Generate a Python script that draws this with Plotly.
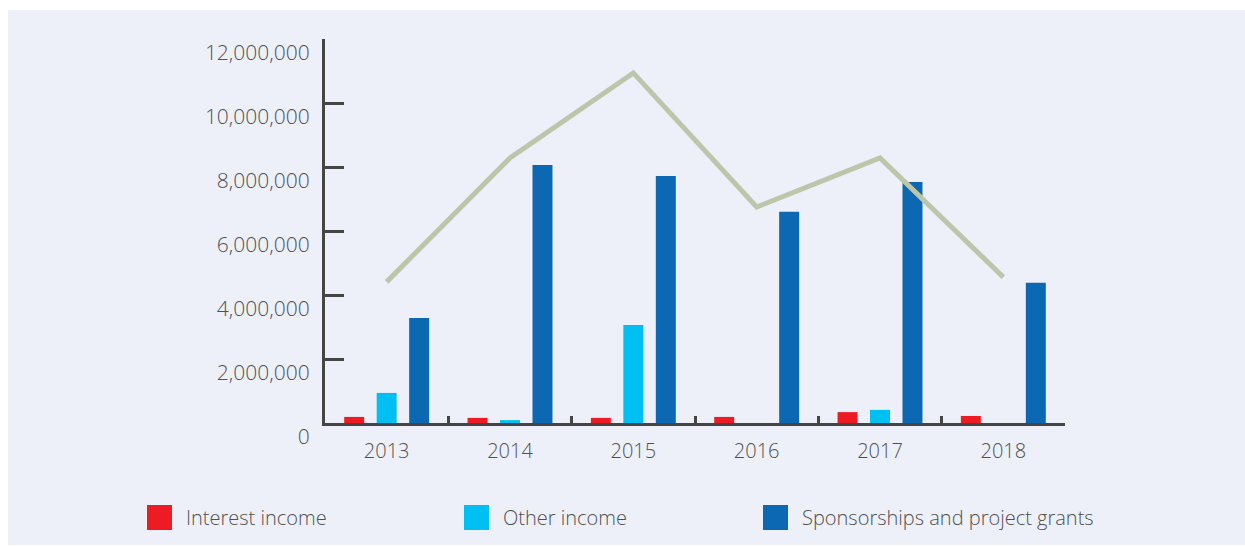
import plotly.graph_objects as go

years = ["2013", "2014", "2015", "2016", "2017", "2018"]
interest_income = [190000, 160000, 160000, 190000, 340000, 220000]
other_income = [940000, 90000, 3060000, 0, 410000, 0]
sponsorships = [3280000, 8060000, 7720000, 6600000, 7530000, 4380000]
total_income = [4410000, 8280000, 10940000, 6750000, 8280000, 4560000]

y_ticks = [0, 2000000, 4000000, 6000000, 8000000, 10000000, 12000000]

series_names = ["Interest income", "Other income", "Sponsorships and project grants"]
series_colors = ["#ed1c24", "#00c0f3", "#0c68b3"]
line_color = "#bcc6ab"
axis_color = "#454545"
text_color = "#505050"
panel_color = "#edf0f8"

W, H = 1245, 546
L, R, T, B = 325, 1065, 39, 423


def px_x(px):
    return (px - L) / (R - L)


def px_y(py):
    return (B - py) / (B - T)


fig = go.Figure()
for name, vals, col in zip(series_names, [interest_income, other_income, sponsorships], series_colors):
    fig.add_trace(go.Bar(x=years, y=vals, name=name, marker_color=col,
                         marker_line_width=0, showlegend=False))

fig.add_trace(go.Scatter(x=years, y=total_income, mode="lines",
                         line=dict(color=line_color, width=5),
                         showlegend=False, name="Total"))

shapes = [dict(type="rect", xref="paper", yref="paper",
               x0=px_x(8), x1=px_x(1250), y0=px_y(545), y1=px_y(10),
               fillcolor=panel_color, line_width=0, layer="below")]
annotations = []
legend_pos = [(147, 184), (464, 501), (763, 800)]
for (sx, tx), name, col in zip(legend_pos, series_names, series_colors):
    shapes.append(dict(type="rect", xref="paper", yref="paper",
                       x0=px_x(sx), x1=px_x(sx + 25), y0=px_y(530), y1=px_y(505),
                       fillcolor=col, line_width=0))
    annotations.append(dict(xref="paper", yref="paper", x=px_x(tx), y=px_y(517),
                            xanchor="left", yanchor="middle", showarrow=False,
                            text=name, font=dict(size=20, color=text_color,
                                                 family="Open Sans", weight=300)))

fig.update_layout(
    width=W, height=H,
    margin=dict(l=L, r=W - R, t=T, b=H - B, pad=0),
    paper_bgcolor="white",
    plot_bgcolor=panel_color,
    barmode="group",
    bargap=0.21,
    bargroupgap=0.385,
    font=dict(family="Open Sans", size=20, color=text_color, weight=300),
    shapes=shapes,
    annotations=annotations,
    showlegend=False,
)

fig.update_xaxes(type="category", showline=True, linewidth=3, linecolor=axis_color,
                 ticks="inside", tickson="boundaries", ticklen=7, tickwidth=3,
                 tickcolor=axis_color, showgrid=False, zeroline=False,
                 tickfont=dict(size=20, color=text_color, weight=300), ticklabelstandoff=8)

fig.update_yaxes(range=[0, 12000000], tickvals=y_ticks, tickformat=",d",
                 showline=True, linewidth=3, linecolor=axis_color,
                 ticks="inside", ticklen=19, tickwidth=3, tickcolor=axis_color,
                 showgrid=False, zeroline=False,
                 ticklabelposition="outside bottom", ticklabelshift=-3,
                 tickfont=dict(size=21, color=text_color, weight=300), ticklabelstandoff=8)

fig.write_html("out.html", config={"displayModeBar": False},
               post_script="document.body.style.margin='0';document.body.style.overflow='hidden';")
